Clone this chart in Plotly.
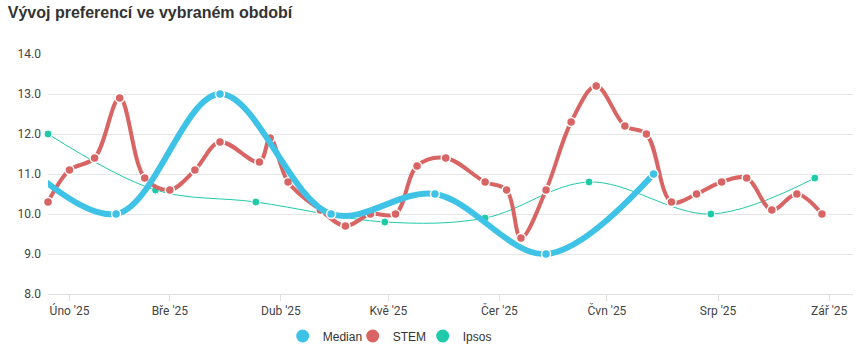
import plotly.graph_objects as go

# ---- data ----
median_dates = ["2025-01-14", "2025-02-14", "2025-03-15", "2025-04-15", "2025-05-14", "2025-06-14", "2025-07-14"]
median_vals = [11.7, 10.0, 13.0, 10.0, 10.5, 9.0, 11.0]

stem_dates = ["2025-01-26", "2025-02-01", "2025-02-08", "2025-02-15", "2025-02-22", "2025-03-01",
              "2025-03-08", "2025-03-15", "2025-03-26", "2025-03-29", "2025-04-03", "2025-04-12",
              "2025-04-19", "2025-04-26", "2025-05-03", "2025-05-09", "2025-05-17", "2025-05-28",
              "2025-06-03", "2025-06-07", "2025-06-14", "2025-06-21", "2025-06-28", "2025-07-06",
              "2025-07-12", "2025-07-19", "2025-07-26", "2025-08-02", "2025-08-09", "2025-08-16",
              "2025-08-23", "2025-08-30"]
stem_vals = [10.3, 11.1, 11.4, 12.9, 10.9, 10.6,
             11.1, 11.8, 11.3, 11.9, 10.8, 10.1,
             9.7, 10.0, 10.0, 11.2, 11.4, 10.8,
             10.6, 9.4, 10.6, 12.3, 13.2, 12.2,
             12.0, 10.3, 10.5, 10.8, 10.9, 10.1,
             10.5, 10.0]

ipsos_dates = ["2025-01-26", "2025-02-25", "2025-03-25", "2025-04-30", "2025-05-28", "2025-06-26", "2025-07-30", "2025-08-28"]
ipsos_vals = [12.0, 10.6, 10.3, 9.8, 9.9, 10.8, 10.0, 10.9]

other_dates = ["2025-06-14"]
other_vals = [7.98]

tick_dates = ["2025-02-01", "2025-03-01", "2025-04-01", "2025-05-01", "2025-06-01", "2025-07-01", "2025-08-01", "2025-09-01"]
tick_labels = ["Úno '25", "Bře '25", "Dub '25", "Kvě '25", "Čer '25", "Čvn '25", "Srp '25", "Zář '25"]

C_MED = "#3ec3e7"
C_STEM = "#d96464"
C_IPS = "#1fcaa8"

fig = go.Figure()

fig.add_trace(go.Scatter(
    x=other_dates, y=other_vals, mode="markers", showlegend=False,
    marker=dict(color="#dcb040", size=6, symbol="square"), cliponaxis=True, hoverinfo="skip"))

fig.add_trace(go.Scatter(
    x=ipsos_dates, y=ipsos_vals, mode="lines+markers", name="Ipsos", showlegend=False,
    line=dict(color=C_IPS, width=1, shape="spline", smoothing=1.0),
    marker=dict(color=C_IPS, size=8, line=dict(color="white", width=1)), cliponaxis=False))

fig.add_trace(go.Scatter(
    x=stem_dates, y=stem_vals, mode="lines+markers", name="STEM", showlegend=False,
    line=dict(color=C_STEM, width=4, shape="spline", smoothing=1.0),
    marker=dict(color=C_STEM, size=9, line=dict(color="white", width=1.5)), cliponaxis=False))

fig.add_trace(go.Scatter(
    x=median_dates, y=median_vals, mode="lines+markers", name="Median", showlegend=False,
    line=dict(color=C_MED, width=6, shape="spline", smoothing=1.0),
    marker=dict(color=C_MED, size=9, line=dict(color="white", width=1.5)), cliponaxis=True))

# legend-only entries (big circles)
for name, col in [("Median", C_MED), ("STEM", C_STEM), ("Ipsos", C_IPS)]:
    fig.add_trace(go.Scatter(x=[None], y=[None], mode="markers", name=name,
                             marker=dict(color=col, size=13)))

fig.update_layout(
    width=863, height=350,
    margin=dict(l=48, r=10, t=54, b=56, autoexpand=False),
    paper_bgcolor="white", plot_bgcolor="white",
    title=dict(text="<b>Vývoj preferencí ve vybraném období</b>", x=0.009, xanchor="left",
               y=0.965, yanchor="middle", yref="container",
               font=dict(family="Liberation Sans, Arial", size=16, color="#333333")),
    showlegend=True,
    legend=dict(orientation="h", x=0.422, xanchor="center", y=0.04, yanchor="middle", yref="container",
                font=dict(family="Liberation Sans, Arial", size=12, color="#333333"),
                itemwidth=30, entrywidth=25, tracegroupgap=0, traceorder="normal"),
    font=dict(family="Roboto, Arial", size=12, color="#444444"),
)

fig.update_xaxes(
    type="date", range=["2025-01-26", "2025-09-07 16:00"],
    tickvals=tick_dates, ticktext=tick_labels,
    showgrid=False, showline=True, linecolor="#e0e0e0", linewidth=1,
    ticks="outside", ticklen=6, tickcolor="#e0e0e0", tickwidth=1,
    tickfont=dict(family="Roboto, Arial", size=12, color="#444444"),
    zeroline=False, fixedrange=True)

fig.update_yaxes(
    range=[8, 14], tickvals=[8, 9, 10, 11, 12, 13, 14], tickformat=".1f",
    showgrid=True, gridcolor="#e6e6e6", gridwidth=1, zeroline=False,
    showline=False, ticks="", ticklabelstandoff=6,
    tickfont=dict(family="Roboto, Arial", size=12, color="#444444"), fixedrange=True)

fig.write_html("out.html")
